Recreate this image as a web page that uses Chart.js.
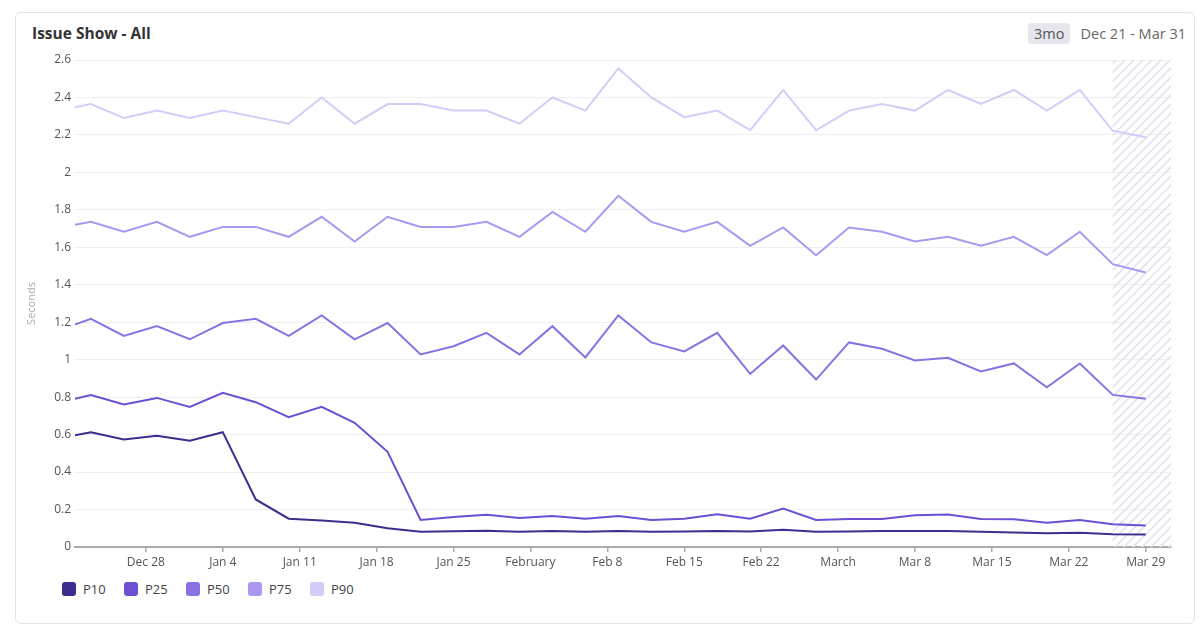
<!DOCTYPE html>
<html>
<head>
<meta charset="utf-8">
<script src="https://cdn.jsdelivr.net/npm/chart.js@4"></script>
<style>
  body { margin: 0; background: #fff; font-family: "Open Sans", "Noto Sans", sans-serif; }
  .card { position: absolute; left: 15px; top: 12px; width: 1180px; height: 612px;
          border: 1px solid #e4e4e8; border-radius: 6px; box-sizing: border-box; }
  .title { position: absolute; left: 32px; top: 22px; font-size: 15.5px; font-weight: 700; color: #333; }
  .range { position: absolute; right: 14px; top: 23px; font-size: 14.5px; color: #666; display: flex; align-items: center; }
  .pill { background: #e6e6ec; border-radius: 4px; padding: 1px 6px; margin-right: 10px; color: #555; }
  #wrap { position: absolute; left: 15px; top: 45px; width: 1180px; height: 535px; }
  #legend { position: absolute; left: 62px; top: 580px; display: flex; font-size: 13px; color: #444; }
  #legend .item { display: flex; align-items: center; width: 62px; }
  #legend .box { width: 14px; height: 14px; border-radius: 3px; margin-right: 7px; }
</style>
</head>
<body>
<div class="card"></div>
<div class="title">Issue Show - All</div>
<div class="range"><span class="pill">3mo</span><span>Dec 21 - Mar 31</span></div>
<div id="wrap"><canvas id="myChart"></canvas></div>
<div id="legend"></div>
<script>
// sample dates, every 3 days (first one falls just before the visible range)
var dates = ['2022-12-20', '2022-12-23', '2022-12-26', '2022-12-29', '2023-01-01', '2023-01-04',
  '2023-01-07', '2023-01-10', '2023-01-13', '2023-01-16', '2023-01-19', '2023-01-22', '2023-01-25',
  '2023-01-28', '2023-01-31', '2023-02-03', '2023-02-06', '2023-02-09', '2023-02-12', '2023-02-15',
  '2023-02-18', '2023-02-21', '2023-02-24', '2023-02-27', '2023-03-02', '2023-03-05', '2023-03-08',
  '2023-03-11', '2023-03-14', '2023-03-17', '2023-03-20', '2023-03-23', '2023-03-26', '2023-03-29'];

var p10 = [0.580, 0.613, 0.574, 0.594, 0.567, 0.613, 0.254, 0.151, 0.142, 0.130, 0.100, 0.082, 0.084,
  0.087, 0.082, 0.085, 0.082, 0.085, 0.081, 0.083, 0.085, 0.083, 0.092, 0.081, 0.083, 0.085, 0.086,
  0.086, 0.081, 0.077, 0.074, 0.076, 0.068, 0.067];
var p25 = [0.770, 0.811, 0.761, 0.796, 0.748, 0.823, 0.773, 0.693, 0.748, 0.663, 0.508, 0.144, 0.160,
  0.172, 0.155, 0.165, 0.151, 0.165, 0.144, 0.151, 0.175, 0.151, 0.205, 0.144, 0.150, 0.150, 0.169,
  0.173, 0.150, 0.148, 0.130, 0.144, 0.121, 0.115];
var p50 = [1.156, 1.218, 1.127, 1.179, 1.109, 1.196, 1.218, 1.127, 1.236, 1.109, 1.196, 1.028, 1.072,
  1.143, 1.028, 1.179, 1.012, 1.236, 1.092, 1.044, 1.143, 0.924, 1.076, 0.894, 1.092, 1.058, 0.996,
  1.010, 0.937, 0.980, 0.853, 0.980, 0.812, 0.791];
var p75 = [1.703, 1.736, 1.683, 1.736, 1.656, 1.709, 1.709, 1.656, 1.763, 1.631, 1.763, 1.709, 1.709,
  1.736, 1.656, 1.789, 1.683, 1.875, 1.736, 1.683, 1.736, 1.608, 1.706, 1.558, 1.706, 1.683, 1.631,
  1.656, 1.608, 1.656, 1.558, 1.683, 1.510, 1.466];
var p90 = [2.330, 2.365, 2.290, 2.330, 2.290, 2.330, 2.295, 2.260, 2.400, 2.260, 2.365, 2.365, 2.330,
  2.330, 2.260, 2.400, 2.330, 2.555, 2.400, 2.295, 2.330, 2.225, 2.440, 2.225, 2.330, 2.365, 2.330,
  2.440, 2.365, 2.440, 2.330, 2.440, 2.222, 2.188];

var seriesNames = ['P10', 'P25', 'P50', 'P75', 'P90'];
var seriesColors = ['#3e2c8e', '#6c4fd5', '#8a72e4', '#ab97f1', '#d4cbf8'];

var tickDates = ['2022-12-28', '2023-01-04', '2023-01-11', '2023-01-18', '2023-01-25', '2023-02-01',
  '2023-02-08', '2023-02-15', '2023-02-22', '2023-03-01', '2023-03-08', '2023-03-15', '2023-03-22', '2023-03-29'];
var tickLabels = ['Dec 28', 'Jan 4', 'Jan 11', 'Jan 18', 'Jan 25', 'February', 'Feb 8', 'Feb 15',
  'Feb 22', 'March', 'Mar 8', 'Mar 15', 'Mar 22', 'Mar 29'];

var rangeStart = '2022-12-21';
var rangeEnd = '2023-03-31';
var partialFrom = '2023-03-26'; // incomplete data, hatched

function dayOf(s) {
  return (Date.parse(s) - Date.parse(rangeStart)) / 86400000;
}

var xs = dates.map(dayOf);
var values = [p10, p25, p50, p75, p90];
var ds = [];
for (var i = 0; i < values.length; i++) {
  ds.push({
    label: seriesNames[i],
    data: values[i].map(function (v, j) { return { x: xs[j], y: v }; }),
    borderColor: seriesColors[i],
    backgroundColor: seriesColors[i],
    borderWidth: 2,
    pointRadius: 0,
    tension: 0,
    order: i
  });
}

var tickDays = tickDates.map(dayOf);

// hatch pattern for the partial period
function makePattern(ctx) {
  var c = document.createElement('canvas');
  c.width = 9; c.height = 9;
  var p = c.getContext('2d');
  p.strokeStyle = '#e3e3ec';
  p.lineWidth = 1.6;
  p.beginPath();
  p.moveTo(-1, 10); p.lineTo(10, -1);
  p.moveTo(-1, 1); p.lineTo(1, -1);
  p.moveTo(8, 10); p.lineTo(10, 8);
  p.stroke();
  return ctx.createPattern(c, 'repeat');
}

var hatch = {
  id: 'hatch',
  beforeDatasetsDraw: function (chart) {
    var a = chart.chartArea, ctx = chart.ctx;
    var x0 = chart.scales.x.getPixelForValue(dayOf(partialFrom));
    ctx.save();
    ctx.fillStyle = makePattern(ctx);
    ctx.fillRect(x0, a.top, a.right - x0, a.bottom - a.top);
    ctx.restore();
  }
};

var ctx = document.getElementById('myChart').getContext('2d');
new Chart(ctx, {
  type: 'line',
  data: { datasets: ds },
  plugins: [hatch],
  options: {
    responsive: true,
    maintainAspectRatio: false,
    animation: false,
    layout: { padding: { top: 15, right: 24, left: 0, bottom: 0 } },
    plugins: { legend: { display: false }, tooltip: { enabled: false } },
    scales: {
      x: {
        type: 'linear',
        min: 0.55,
        max: dayOf(rangeEnd) + 0.3,
        afterBuildTicks: function (s) { s.ticks = tickDays.map(function (d) { return { value: d }; }); },
        afterFit: function (s) { s.height = 33; },
        ticks: {
          autoSkip: false, maxRotation: 0, padding: 3, color: '#555',
          font: { family: 'Open Sans', size: 12 },
          callback: function (v) { var k = tickDays.indexOf(v); return k >= 0 ? tickLabels[k] : ''; }
        },
        grid: { drawOnChartArea: false, drawTicks: true, tickLength: 5, color: '#aaa', lineWidth: 1.5 },
        border: { color: '#aaa', width: 2 }
      },
      y: {
        min: 0, max: 2.6,
        afterFit: function (s) { s.width = 60; },
        ticks: {
          stepSize: 0.2, padding: 4, color: '#555', font: { family: 'Open Sans', size: 12 },
          callback: function (v) { return String(Math.round(v * 10) / 10); }
        },
        grid: { color: '#efeff3', drawTicks: false },
        border: { display: false },
        title: { display: true, text: 'Seconds', color: '#aaa', padding: { top: 10, bottom: 0 },
                 font: { family: 'Open Sans', size: 11 } }
      }
    }
  }
});

var lg = document.getElementById('legend');
for (var k = 0; k < seriesNames.length; k++) {
  lg.innerHTML += '<div class="item"><span class="box" style="background:' + seriesColors[k] +
    '"></span>' + seriesNames[k] + '</div>';
}
</script>
</body>
</html>
